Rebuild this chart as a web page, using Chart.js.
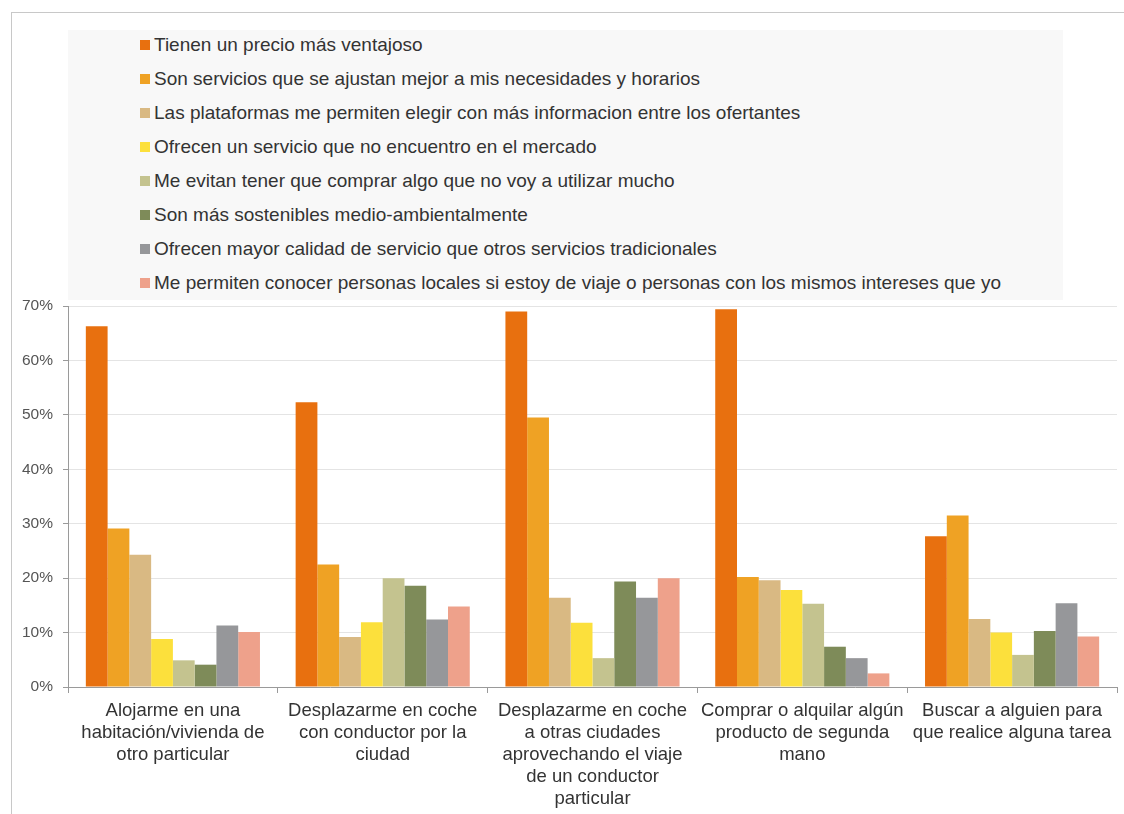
<!DOCTYPE html>
<html>
<head>
<meta charset="utf-8">
<script src="https://cdn.jsdelivr.net/npm/chart.js@4.4.1/dist/chart.umd.min.js"></script>
<style>
  html, body { margin: 0; padding: 0; background: #fff; }
  #wrap { position: relative; width: 1124px; height: 814px; }
  #frame {
    position: absolute; left: 11px; top: 12px; right: 0; bottom: 0;
    border-left: 1px solid #c8c8c8; border-top: 1px solid #c8c8c8;
  }
  #legend {
    position: absolute; left: 68px; top: 30px; width: 995px; height: 270px;
    background: #f8f8f8; font-family: "Liberation Sans", Arial, sans-serif;
    font-size: 19px; color: #333;
  }
  #legend div { position: absolute; left: 72px; height: 22px; line-height: 22px; white-space: nowrap; }
  #legend span.box { display: inline-block; width: 10px; height: 10px; margin-right: 4px; vertical-align: 1px; }
  canvas { position: absolute; left: 0; top: 0; }
</style>
</head>
<body>
<div id="wrap">
  <div id="frame"></div>
  <canvas id="chart-canvas" width="1124" height="814"></canvas>
  <div id="legend"></div>
</div>
<script>
const categories = [
  ["Alojarme en una", "habitación/vivienda de", "otro particular"],
  ["Desplazarme en coche", "con conductor por la", "ciudad"],
  ["Desplazarme en coche", "a otras ciudades", "aprovechando el viaje", "de un conductor", "particular"],
  ["Comprar o alquilar algún", "producto de segunda", "mano"],
  ["Buscar a alguien para", "que realice alguna tarea"],
];

const seriesNames = [
  "Tienen un precio más ventajoso",
  "Son servicios que se ajustan mejor a mis necesidades y horarios",
  "Las plataformas me permiten elegir con más informacion entre los ofertantes",
  "Ofrecen un servicio que no encuentro en el mercado",
  "Me evitan tener que comprar algo que no voy a utilizar mucho",
  "Son más sostenibles medio-ambientalmente",
  "Ofrecen mayor calidad de servicio que otros servicios tradicionales",
  "Me permiten conocer personas locales si estoy de viaje o personas con los mismos intereses que yo",
];

// values in %, one array per series (5 categories each)
const precio = [66.3, 52.3, 69.0, 69.4, 27.7];
const ajustan = [29.1, 22.5, 49.5, 20.2, 31.5];
const plataformas = [24.3, 9.2, 16.4, 19.6, 12.5];
const noEncuentro = [8.8, 11.9, 11.8, 17.8, 10.0];
const evitanComprar = [4.9, 20.0, 5.3, 15.3, 5.9];
const sostenibles = [4.1, 18.6, 19.4, 7.4, 10.3];
const calidad = [11.3, 12.4, 16.4, 5.3, 15.4];
const conocerPersonas = [10.1, 14.8, 20.0, 2.5, 9.3];

const yTicks = [0, 10, 20, 30, 40, 50, 60, 70];

const seriesValues = [precio, ajustan, plataformas, noEncuentro, evitanComprar, sostenibles, calidad, conocerPersonas];
const seriesColors = ["#e8700f", "#efa224", "#d9b983", "#fce03c", "#c4c38f", "#7e8b59", "#96979a", "#eea18b"];

const datasets = seriesNames.map((name, i) => ({
  label: name,
  data: seriesValues[i],
  backgroundColor: seriesColors[i],
  borderWidth: 0,
  categoryPercentage: 0.83,
  barPercentage: 1.0,
}));

// legend drawn as html, one entry per row
const legendEl = document.getElementById("legend");
seriesNames.forEach((name, i) => {
  const row = document.createElement("div");
  row.style.top = (4 + i * 34) + "px";
  row.innerHTML = '<span class="box" style="background:' + seriesColors[i] + '"></span>' + name;
  legendEl.appendChild(row);
});

const ctx = document.getElementById("chart-canvas").getContext("2d");
new Chart(ctx, {
  type: "bar",
  data: { labels: categories, datasets },
  options: {
    responsive: false,
    animation: false,
    layout: { padding: { left: 10, top: 306, right: 7, bottom: 0 } },
    plugins: {
      legend: { display: false },
      tooltip: { enabled: false },
    },
    scales: {
      x: {
        grid: {
          offset: true,
          drawOnChartArea: false,
          drawTicks: true,
          tickLength: 6,
          color: "#9a9a9a",
        },
        border: { color: "#9a9a9a" },
        ticks: {
          color: "#333",
          font: { family: "Liberation Sans, Arial, sans-serif", size: 18.5, lineHeight: 22 / 18.5 },
          maxRotation: 0,
          autoSkip: false,
          padding: 7,
        },
        afterFit: (scale) => { scale.height = 127; },
      },
      y: {
        min: 0,
        max: 70,
        afterBuildTicks: (scale) => { scale.ticks = yTicks.map((v) => ({ value: v })); },
        grid: {
          color: "#e4e4e4",
          tickColor: "#9a9a9a",
          tickLength: 5,
        },
        border: { color: "#9a9a9a" },
        ticks: {
          color: "#555",
          font: { family: "Liberation Sans, Arial, sans-serif", size: 15.5 },
          padding: 10,
          callback: (v) => v + "%",
        },
        afterFit: (scale) => { scale.width = 58; },
      },
    },
  },
});
</script>
</body>
</html>
